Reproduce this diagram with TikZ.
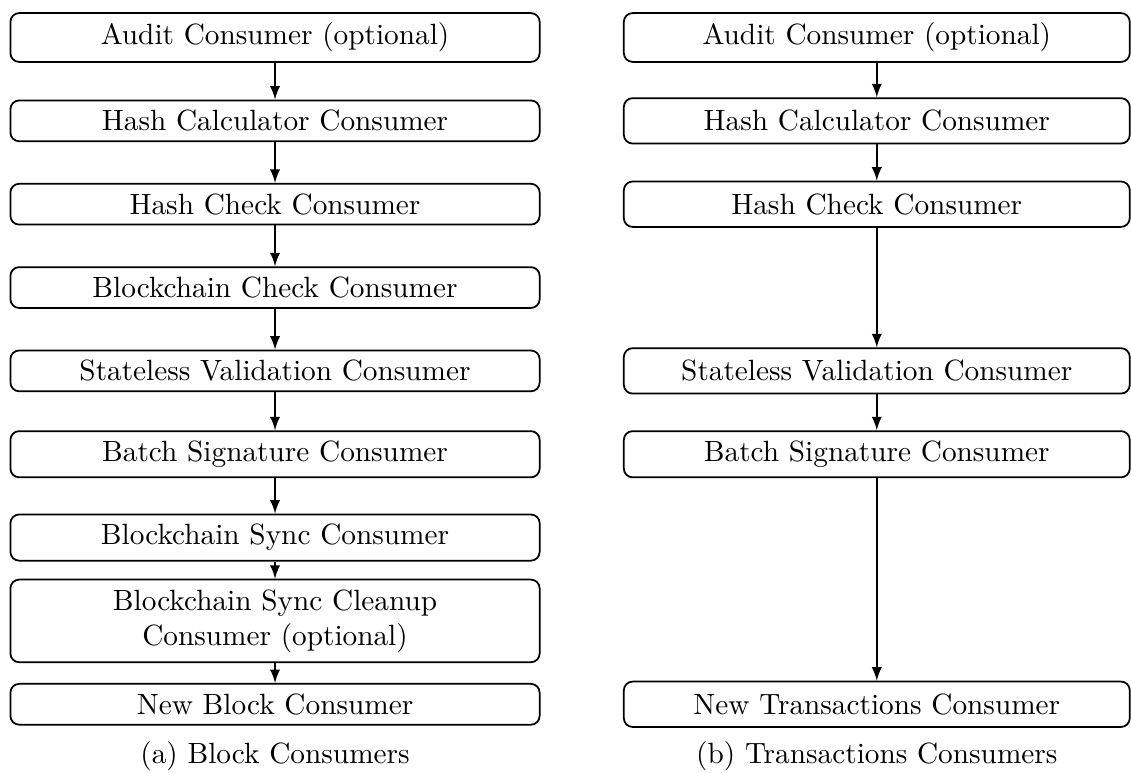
\documentclass[tikz,border=0pt]{standalone}
\usepackage{amsmath,amssymb}
\usepackage{xcolor}
\usepackage{tikz}

\begin{document}
\begin{tikzpicture}[semithick,
        blockbox/.style={draw, rounded corners=3pt, align=center, minimum width=6.35cm},
        txbox/.style={draw, rounded corners=3pt, align=center, minimum width=6.07cm, minimum height=15.5pt}]
            \useasboundingbox (-3.30,0.45) rectangle (10.27,-8.814);

            % block consumers
            \node[blockbox] (audita) at (0,0) {Audit Consumer (optional)};
            \node[blockbox] (hcalca) at (0,-1) {Hash Calculator Consumer};
            \node[blockbox] (hchecka) at (0,-2) {Hash Check Consumer};
            \node[blockbox] (bchecka) at (0,-3) {Blockchain Check Consumer};
            \node[blockbox] (statea) at (0,-4) {Stateless Validation Consumer};
            \node[blockbox] (batcha) at (0,-5) {Batch Signature Consumer};
            \node[blockbox] (synca) at (0,-6) {Blockchain Sync Consumer};
            \node[blockbox] (cleana) at (0,-7) {Blockchain Sync Cleanup\\Consumer (optional)};
            \node[blockbox] (newa) at (0,-8) {New Block Consumer};

            \draw[-latex] (audita) -- (hcalca);
            \draw[-latex] (hcalca) -- (hchecka);
            \draw[-latex] (hchecka) -- (bchecka);
            \draw[-latex] (bchecka) -- (statea);
            \draw[-latex] (statea) -- (batcha);
            \draw[-latex] (batcha) -- (synca);
            \draw[-latex] (synca) -- (cleana);
            \draw[-latex] (cleana) -- (newa);

            % transactions consumers
            \node[txbox] (auditb) at (7.22,0) {Audit Consumer (optional)};
            \node[txbox] (hcalcb) at (7.22,-1) {Hash Calculator Consumer};
            \node[txbox] (hcheckb) at (7.22,-2) {Hash Check Consumer};
            \node[txbox] (stateb) at (7.22,-4) {Stateless Validation Consumer};
            \node[txbox] (batchb) at (7.22,-5) {Batch Signature Consumer};
            \node[txbox] (newb) at (7.22,-8) {New Transactions Consumer};

            \draw[-latex] (auditb) -- (hcalcb);
            \draw[-latex] (hcalcb) -- (hcheckb);
            \draw[-latex] (hcheckb) -- (stateb);
            \draw[-latex] (stateb) -- (batchb);
            \draw[-latex] (batchb) -- (newb);

            \node (capa) at (0,-8.62) {(a) Block Consumers};
            \node (capb) at (7.22,-8.62) {(b) Transactions Consumers};
        \end{tikzpicture}
\end{document}
